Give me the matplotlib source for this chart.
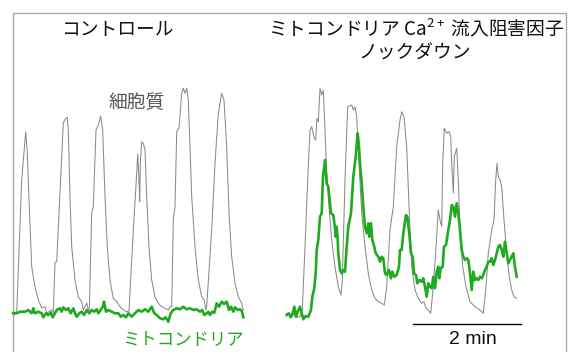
import numpy as np
import matplotlib
matplotlib.use("Agg")
import matplotlib.pyplot as plt
from matplotlib.patches import Rectangle

plt.rcParams["font.family"] = ["Noto Sans CJK JP", "DejaVu Sans"]
plt.rcParams["mathtext.default"] = "regular"

# traces: x = time (px columns), y = level (px rows, down is low)
ctrl_cyto_x = [14, 16.7, 21.7, 25.7, 27.3, 29.3, 31.7, 35, 38.3, 41.7, 45, 46.7, 51.7, 53.3,
               55, 56.7, 63.3, 65, 67.3, 68.3, 70, 71.7, 75, 78.3, 81.7, 83.3, 86.7, 88.3,
               89.3, 91.7, 93.3, 96, 98.3, 100.7, 102.7, 105, 107.3, 110, 113.3, 116.7, 120,
               123.3, 126.7, 129, 133.3, 136.7, 137.7, 139, 139.7, 140.3, 141.7, 143.3, 145,
               146.7, 149, 151.7, 155, 158.3, 161.7, 165, 168.3, 170, 171.7, 173.3, 175,
               176.7, 179, 181.7, 183.3, 185, 186.7, 188.3, 190, 191.7, 195, 198.3, 201.7,
               204.3, 205.7, 206.7, 211.7, 215, 218.3, 221.7, 224, 226.7, 229, 231.7, 235,
               238.3, 241.7, 243.3]
ctrl_cyto_y = [315, 313, 180, 131.7, 153, 206.7, 266.7, 286.7, 300, 308, 306.7, 313, 310, 313,
               262.7, 261.7, 123.3, 119.3, 117.3, 130, 196.7, 246.7, 280, 296.7, 301.7, 310, 303, 310,
               310, 213, 206.7, 130, 125, 116, 130, 196.7, 246.7, 280, 298.3, 301.7, 306.7,
               310, 311.7, 311, 230, 173.3, 154, 180, 201.7, 163, 141.7, 143.3, 150,
               196.7, 246.7, 280, 296.7, 303.3, 306.7, 308.3, 310, 306.7, 306.7, 220, 206.7,
               131.7, 128, 93, 88.3, 93.3, 88.3, 100, 146.7, 196.7, 246.7, 280, 296.7,
               300, 310, 306.7, 230, 163.3, 113.3, 93.3, 100, 146.7, 213.3, 256.7, 283.3,
               296.7, 303.3, 310]

ctrl_mito_x = [13, 16.7, 20, 25, 28.3, 31.7, 33.3, 35, 38.3, 41.7, 43.3, 46, 48.3, 50.7, 52.7,
               55, 56.7, 60, 61.7, 63.3, 66, 68.3, 70.7, 73.3, 75, 76.7, 79.3, 81.7, 84, 86.7,
               89.3, 91.7, 94, 96.7, 98.3, 100.7, 102.7, 104, 106, 108.3, 111.7, 115, 118.3,
               120.7, 123.3, 126, 128.3, 131.7, 135, 138.3, 141.7, 145, 148.3, 151.7, 154.3,
               156.7, 160, 163.3, 165.7, 168.3, 170.7, 173.3, 176.7, 180, 183.3, 186.7, 190,
               193.3, 196.7, 200, 202.3, 204.3, 206.7, 208.3, 210, 212.3, 214.3, 216.7, 219,
               221.7, 224, 226.7, 229, 231, 233.3, 235, 237.7, 240, 241.7, 243.3]
ctrl_mito_y = [313, 313.3, 311.7, 311.7, 310, 313.3, 308.3, 313.3, 311.7, 313.3, 317.3, 313.3,
               315, 312.7, 317.3, 313.3, 310, 308.3, 311.7, 307.3, 310, 308.3, 313.3, 308.3,
               313.3, 316.7, 313.3, 311.7, 315, 310, 313.3, 310, 311.7, 309.3, 313.3, 310,
               306.7, 301.7, 311.7, 310, 311.7, 313.3, 313.3, 316.7, 315, 317.3, 313.3, 316.7,
               313.3, 310, 311.7, 309.3, 311.7, 306.7, 313.3, 315, 318.3, 319.3, 317.3, 321.7,
               313.3, 310, 308.3, 309.3, 306.7, 309.3, 308.3, 310, 309.3, 311.7, 310, 315,
               313.3, 311.7, 315, 311.7, 312.7, 303.3, 306.7, 301.7, 304, 301.7, 310, 306.7,
               311.7, 307.3, 310, 309.3, 310.7, 317.3]

kd_cyto_x = [286.7, 290, 293.3, 296.7, 300, 302.3, 305, 307.7, 310, 311.7, 314.3, 315.7, 317,
             318.3, 320, 321.7, 323.3, 325, 326.7, 329, 331.7, 335, 338.3, 341, 342.3, 345,
             347.7, 351.7, 353.3, 355, 356.7, 359, 361.7, 365, 368.3, 371.7, 375, 378.3,
             381.7, 384.3, 386.7, 390, 393.3, 396.7, 400, 401.7, 404, 406.7, 409.3, 411.7,
             415, 418.3, 421.7, 424, 426, 428.3, 430.7, 433.3, 436, 438.3, 440, 441.7, 442.7,
             444.3, 446.7, 449, 450.7, 451.7, 453.3, 454.3, 456.7, 458.3, 460, 462.7, 466,
             470, 475, 480, 483.3, 486, 488.3, 491.7, 494, 495.7, 497, 498.3, 500, 501.7,
             504, 506.7, 509.3, 511.7, 514, 516.7]
kd_cyto_y = [313.3, 315, 313.3, 317.3, 316.7, 310, 246.7, 180, 130, 126.7, 138.3, 140, 118.3,
             121.7, 88.3, 95, 90, 130, 173.3, 206.7, 240, 266.7, 286.7, 295, 280, 180,
             106.7, 105, 110, 106.7, 116.7, 163.3, 213.3, 246.7, 273.3, 290, 298.3, 301.7,
             303.3, 305, 286.7, 230, 206.7, 146.7, 120, 111.7, 116.7, 146.7, 213.3, 266.7,
             290, 298.3, 303.3, 301.7, 308.3, 310, 313.3, 286.7, 246.7, 210, 220, 226.7, 163.3,
             128.3, 133.3, 131.7, 136.7, 163.3, 193.3, 156.7, 148.3, 180, 230, 266.7, 286.7,
             301.7, 306.7, 310, 313.3, 286.7, 253.3, 230, 220, 180, 163.3, 176.7, 180, 186.7,
             220, 253.3, 276.7, 290, 296.7, 298.3]

kd_mito_x = [286.7, 289, 290.7, 292.3, 294.3, 296, 297.7, 300, 301.7, 303.3, 305.7, 308.3, 311,
             312.3, 314.3, 315.7, 316.7, 318.3, 320, 321.7, 323, 325, 326.7, 328.3, 331, 333.3,
             335, 335.7, 336.7, 337.7, 338.3, 340, 341.7, 343.3, 345, 346.7, 348.3, 351, 353.3,
             355.7, 357.7, 359, 360, 361.7, 363.3, 365, 366.7, 368.3, 369.3, 371, 372.3, 374.3,
             375.7, 378.3, 380, 381.7, 383.3, 385, 386.7, 389, 391, 392.3, 394.3, 396.7, 399,
             400, 401.7, 403.3, 406, 407.3, 409.3, 411, 412.7, 414, 416, 417.3, 419.3, 421.7,
             423.3, 425, 426.7, 428.3, 430, 431.7, 433.3, 435, 436.7, 438.3, 439.3, 440.7,
             442.7, 444, 446, 448.3, 450, 451.7, 453.3, 455, 456.7, 458.3, 460, 461.7, 463.3,
             465, 466.7, 468.3, 470, 471.7, 473.3, 475, 476.7, 478.3, 480, 481.7, 483.3, 485,
             486.7, 488.3, 490, 491.7, 493.3, 495, 496.7, 498.3, 500, 501.7, 503.3, 505, 506.7,
             508.3, 510, 511.7, 513.3, 515, 516.7]
kd_mito_y = [315, 313.3, 317.3, 315, 306.7, 316.7, 311.7, 306.7, 313.3, 319.3, 316, 316.7, 310,
             296.7, 288.3, 273.3, 250, 240, 216.7, 213.3, 176.7, 160, 183.3, 186.7, 213.3, 215,
             228.3, 236.7, 226.7, 240, 253.3, 270, 273.3, 270, 271.7, 246.7, 226.7, 213.3, 176.7,
             156.7, 133.3, 146.7, 163.3, 183.3, 206.7, 226.7, 233.3, 223.3, 236.7, 223.3, 240, 246.7,
             253.3, 256.7, 261.7, 256.7, 258.3, 273.3, 275, 270, 278.3, 271.7, 276.7, 275, 266.7,
             250, 250, 233.3, 215, 216.7, 233.3, 253.3, 256.7, 273.3, 275, 283.3, 280, 281.7,
             278.3, 286.7, 296.7, 283.3, 286.7, 288.3, 276.7, 288.3, 271.7, 266.7, 278.3, 268.3,
             266.7, 246.7, 245, 230, 220, 205, 206.7, 216.7, 203.3, 213.3, 230, 250, 256.7,
             260, 258.3, 260, 273.3, 290, 271.7, 280, 278.3, 280, 276.7, 278.3, 275, 270,
             266.7, 261.7, 261.7, 258.3, 265, 260, 253.3, 246.7, 245, 250, 256.7, 241.7, 253.3,
             263.3, 260, 256.7, 253.3, 266.7, 276.7]

scale_start = 413
scale_len = 108   # = 2 min
scale_label = "2 min"

GRAY = "#8a8a8a"
GREEN = "#1faa1f"

fig = plt.figure(figsize=(5.69, 3.52), dpi=100)
ax = fig.add_axes([0, 0, 1, 1])
ax.set_xlim(0, 569)
ax.set_ylim(352, 0)
ax.axis("off")

# light frame around the panel
ax.add_patch(Rectangle((13.5, 12.5), 553, 360, fill=False, edgecolor="#a8a8a8", lw=1))

ax.plot(ctrl_cyto_x, ctrl_cyto_y, color=GRAY, lw=0.75)
ax.plot(ctrl_mito_x, ctrl_mito_y, color=GREEN, lw=1.9)
ax.plot(kd_cyto_x, kd_cyto_y, color=GRAY, lw=0.75)
ax.plot(kd_mito_x, kd_mito_y, color=GREEN, lw=1.9)

ax.plot([scale_start, scale_start + scale_len], [324, 324], color="black", lw=1)
ax.text(472.5, 339.5, scale_label, ha="center", va="center",
        fontsize=14, color="#111111", family=["Liberation Sans", "DejaVu Sans"])

ax.text(117, 29, "コントロール", ha="center", va="center", fontsize=13.5, color="#111111")
ax.text(416, 29, "ミトコンドリア Ca$^{2+}$ 流入阻害因子", ha="center", va="center",
        fontsize=13.5, color="#111111")
ax.text(415, 53, "ノックダウン", ha="center", va="center", fontsize=13.5, color="#111111")
ax.text(137, 102, "細胞質", ha="center", va="center", fontsize=13.5, color="#555555")
ax.text(183, 339, "ミトコンドリア", ha="center", va="center", fontsize=12.5, color=GREEN)

fig.savefig("out.png", dpi=100)
